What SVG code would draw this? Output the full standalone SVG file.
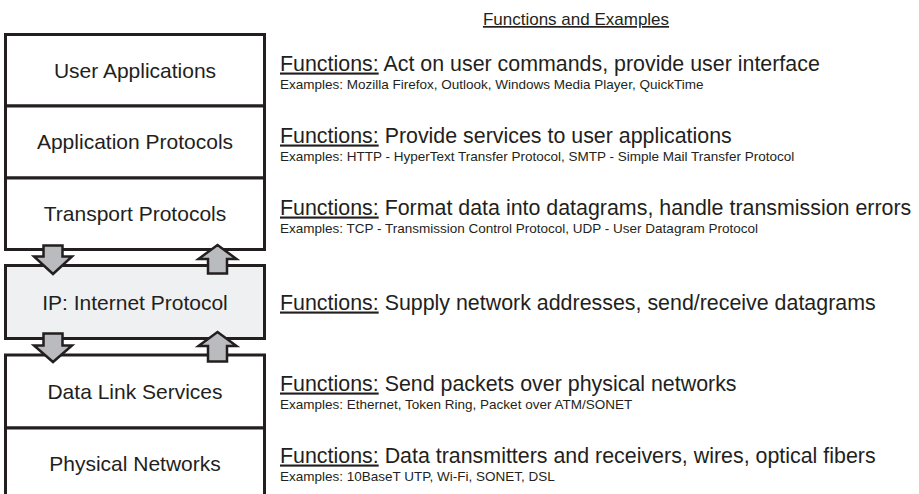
<svg xmlns="http://www.w3.org/2000/svg" width="919" height="494" viewBox="0 0 919 494">
<style>
.box{fill:#ffffff;stroke:#231f20;stroke-width:3}
.ip{fill:#eff0f2}
.lbl{font-family:"Liberation Sans",Arial,sans-serif;font-size:21px;fill:#231f20;text-anchor:middle}
.fn{font-family:"Liberation Sans",Arial,sans-serif;font-size:21.4px;fill:#231f20}
.ex{font-family:"Liberation Sans",Arial,sans-serif;font-size:13.5px;fill:#231f20}
.ttl{font-family:"Liberation Sans",Arial,sans-serif;font-size:17px;fill:#231f20;text-anchor:middle;text-decoration:underline}
.u{text-decoration:underline}
.arr{fill:#b9bbbe;stroke:#231f20;stroke-width:2.5;stroke-linejoin:miter}
</style>
<rect width="919" height="494" fill="#ffffff"/>
<text class="ttl" x="576" y="25">Functions and Examples</text>
<g id="user-applications">
<rect class="box" x="5.5" y="34.5" width="259" height="71.5"/>
<text class="lbl" x="135" y="77.5">User Applications</text>
<text class="fn" x="280" y="70.5"><tspan class="u">Functions:</tspan> Act on user commands, provide user interface</text>
<text class="ex" x="280" y="89">Examples: Mozilla Firefox, Outlook, Windows Media Player, QuickTime</text>
</g>
<g id="application-protocols">
<rect class="box" x="5.5" y="106" width="259" height="72"/>
<text class="lbl" x="135" y="149">Application Protocols</text>
<text class="fn" x="280" y="142.5"><tspan class="u">Functions:</tspan> Provide services to user applications</text>
<text class="ex" x="280" y="161">Examples: HTTP - HyperText Transfer Protocol, SMTP - Simple Mail Transfer Protocol</text>
</g>
<g id="transport-protocols">
<rect class="box" x="5.5" y="178" width="259" height="71.5"/>
<text class="lbl" x="135" y="220.5">Transport Protocols</text>
<text class="fn" x="280" y="214.5"><tspan class="u">Functions:</tspan> Format data into datagrams, handle transmission errors</text>
<text class="ex" x="280" y="233">Examples: TCP - Transmission Control Protocol, UDP - User Datagram Protocol</text>
</g>
<g id="ip">
<rect class="box ip" x="5.5" y="265.5" width="259" height="73"/>
<text class="lbl" x="135" y="310">IP: Internet Protocol</text>
<text class="fn" x="280" y="309.5"><tspan class="u">Functions:</tspan> Supply network addresses, send/receive datagrams</text>
</g>
<g id="data-link-services">
<rect class="box" x="5.5" y="355" width="259" height="73"/>
<text class="lbl" x="135" y="398.5">Data Link Services</text>
<text class="fn" x="280" y="390.5"><tspan class="u">Functions:</tspan> Send packets over physical networks</text>
<text class="ex" x="280" y="409">Examples: Ethernet, Token Ring, Packet over ATM/SONET</text>
</g>
<g id="physical-networks">
<path class="box" d="M5.5,500 V428 H264.5 V500"/>
<text class="lbl" x="135" y="470.5">Physical Networks</text>
<text class="fn" x="280" y="462.5"><tspan class="u">Functions:</tspan> Data transmitters and receivers, wires, optical fibers</text>
<text class="ex" x="280" y="481">Examples: 10BaseT UTP, Wi-Fi, SONET, DSL</text>
</g>
<g id="connectors">
<path class="arr" d="M43.5,245.5 H62.5 V256.5 H72 L53,274 L34,256.5 H43.5 Z"/>
<path class="arr" d="M217.5,245 L236.5,259 H227 V273.5 H208 V259 H198.5 Z"/>
<path class="arr" d="M43.5,333.5 H62.5 V345.5 H72 L53,362 L34,345.5 H43.5 Z"/>
<path class="arr" d="M217.5,332 L236.5,346 H227 V361.5 H208 V346 H198.5 Z"/>
</g>
</svg>
